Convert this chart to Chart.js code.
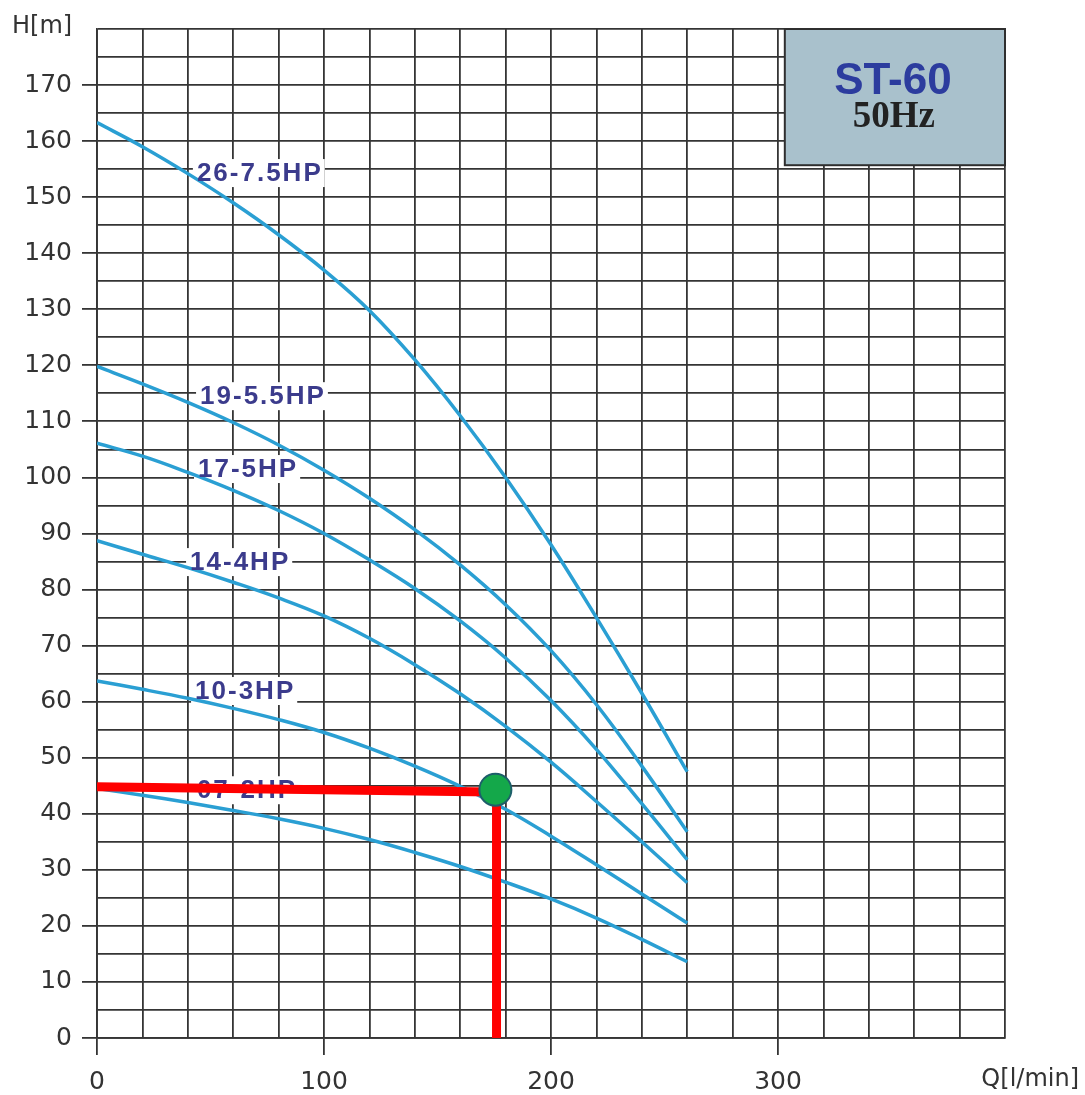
<!DOCTYPE html>
<html><head><meta charset="utf-8">
<script src="https://cdn.jsdelivr.net/npm/chart.js@4.4.0/dist/chart.umd.min.js"></script>
<style>html,body{margin:0;padding:0;background:#fff;}canvas{display:block;}</style>
</head><body>
<canvas id="c" width="1085" height="1095"></canvas>
<script>
// ---- data ----
const flowQ   = [0, 20, 40, 60, 80, 100, 120, 140, 160, 180, 200, 220, 240, 260];
const head26  = [163.3, 159.0, 154.2, 149.0, 143.3, 137.0, 129.8, 121.0, 111.0, 100.0, 88.0, 75.0, 61.5, 47.5];
const head19  = [119.8, 116.7, 113.4, 109.8, 105.8, 101.3, 96.3, 90.7, 84.4, 77.3, 69.1, 59.5, 48.5, 36.8];
const head17  = [106.1, 103.8, 100.9, 97.7, 94.1, 90.0, 85.3, 80.2, 74.4, 67.8, 60.2, 51.5, 41.8, 31.8];
const head14  = [88.7, 86.3, 83.9, 81.3, 78.5, 75.3, 71.3, 66.6, 61.4, 55.6, 49.2, 42.2, 35.0, 27.7];
const head10  = [63.7, 62.2, 60.6, 58.8, 56.8, 54.5, 51.7, 48.5, 44.9, 40.8, 36.0, 30.9, 25.7, 20.5];
const head07  = [44.5, 43.3, 42.0, 40.6, 39.1, 37.4, 35.4, 33.1, 30.6, 27.8, 24.8, 21.4, 17.6, 13.6];
const curveNames = ['26-7.5HP', '19-5.5HP', '17-5HP', '14-4HP', '10-3HP', '07-2HP'];
const curveHeads = [head26, head19, head17, head14, head10, head07];
const dutyQ = 175.5;          // operating point flow
const dutyH = 44.3;           // operating point head
const hLineQ = [0, 174];      // red horizontal guide
const hLineH = [44.8, 43.9];
const vLineQ = [176, 176];    // red vertical guide
const vLineH = [0, 44];
const xTickLabels = [0, 100, 200, 300];
const yTickLabels = [0, 10, 20, 30, 40, 50, 60, 70, 80, 90, 100, 110, 120, 130, 140, 150, 160, 170];
const titleMain = 'ST-60';
const titleSub = '50Hz';
const xTitle = 'Q[l/min]';
const yTitle = 'H[m]';

// ---- styles / positions ----
const GRID = '#353535';
const CURVE = '#2a9fd3';
const LABEL = '#3b3b8c';
const labelAnchors = [[44, 154.3], [45.4, 114.5], [44.5, 101.5], [41, 84.9], [43.2, 61.9], [44, 44.2]];

const toPts = (xs, ys) => xs.map((x, i) => ({x: x, y: ys[i]}));

const datasets = curveHeads.map((h, i) => ({
  label: curveNames[i],
  data: toPts(flowQ, h),
  borderColor: CURVE,
  borderWidth: 3.5,
  pointRadius: 0,
  tension: 0.4,
  fill: false,
  order: 3
}));
datasets.push({label: 'h-guide', data: toPts(hLineQ, hLineH), borderColor: '#ff0000', borderWidth: 9, pointRadius: 0, order: 2, borderCapStyle: 'butt'});
datasets.push({label: 'v-guide', data: toPts(vLineQ, vLineH), borderColor: '#ff0000', borderWidth: 9, pointRadius: 0, order: 2, borderCapStyle: 'butt'});
datasets.push({label: 'duty', type: 'scatter', data: [{x: dutyQ, y: dutyH}], pointRadius: 16, pointBackgroundColor: '#14a84a', pointBorderColor: '#1d5e6a', pointBorderWidth: 2, order: 1});

const LABEL_FONT = 'bold 26px "Liberation Sans", Arial, sans-serif';
let curvesDrawn = 0;
const decor = {
  id: 'decor',
  beforeDatasetsDraw(chart) {
    curvesDrawn = 0;
    const c = chart.ctx, xs = chart.scales.x, ys = chart.scales.y;
    c.save();
    c.font = LABEL_FONT;
    c.letterSpacing = '2px';
    c.fillStyle = '#ffffff';
    curveNames.forEach((t, i) => {
      const px = xs.getPixelForValue(labelAnchors[i][0]);
      const py = ys.getPixelForValue(labelAnchors[i][1]);
      const w = c.measureText(t).width;
      c.fillRect(px - 4, py - 14, w + 6, 28);
    });
    c.restore();
  },
  afterDatasetDraw(chart, args) {
    if (args.index < curveNames.length) {
      curvesDrawn++;
      if (curvesDrawn === curveNames.length) {
        const c = chart.ctx, xs = chart.scales.x, ys = chart.scales.y;
        c.save();
        c.font = LABEL_FONT;
        c.letterSpacing = '2px';
        c.fillStyle = LABEL;
        c.textBaseline = 'middle';
        c.textAlign = 'left';
        curveNames.forEach((t, i) => {
          c.fillText(t, xs.getPixelForValue(labelAnchors[i][0]), ys.getPixelForValue(labelAnchors[i][1]) + 1);
        });
        c.restore();
      }
    }
  },
  afterDraw(chart) {
    const c = chart.ctx, xs = chart.scales.x, ys = chart.scales.y;
    c.save();
    // title box
    const bx1 = xs.getPixelForValue(303), bx2 = xs.getPixelForValue(400);
    const by1 = ys.getPixelForValue(180), by2 = ys.getPixelForValue(155.7);
    c.fillStyle = '#a9c1cc';
    c.fillRect(bx1, by1, bx2 - bx1, by2 - by1);
    c.strokeStyle = '#2f2f2f';
    c.lineWidth = 2;
    c.strokeRect(bx1, by1, bx2 - bx1, by2 - by1);
    const cx = (bx1 + bx2) / 2;
    c.textAlign = 'center';
    c.textBaseline = 'alphabetic';
    c.fillStyle = '#2c3c9e';
    c.font = 'bold 44px "Liberation Sans", Arial, sans-serif';
    c.fillText(titleMain, cx - 2, 94);
    c.fillStyle = '#222222';
    c.font = 'bold 37px "Liberation Serif", "Times New Roman", serif';
    c.fillText(titleSub, cx - 1, 127);
    // axis titles
    c.fillStyle = '#333333';
    c.font = '24px "DejaVu Sans", sans-serif';
    c.textAlign = 'left';
    c.fillText(yTitle, 12, 33);
    c.textAlign = 'right';
    c.fillText(xTitle, 1079, 1086);
    c.restore();
  }
};

new Chart(document.getElementById('c'), {
  type: 'line',
  data: {datasets: datasets},
  options: {
    responsive: false,
    animation: false,
    devicePixelRatio: 1,
    layout: {padding: {top: 29, right: 80, left: 0, bottom: 0}},
    plugins: {legend: {display: false}, tooltip: {enabled: false}},
    scales: {
      x: {
        type: 'linear', min: 0, max: 400,
        ticks: {
          stepSize: 20, autoSkip: false, maxRotation: 0, padding: 12,
          font: {family: 'DejaVu Sans', size: 25}, color: '#333333',
          callback: v => xTickLabels.includes(v) ? String(v) : ''
        },
        grid: {
          color: GRID, lineWidth: 1.8, tickLength: 17,
          tickColor: ctx => (ctx.tick && xTickLabels.includes(ctx.tick.value)) ? GRID : 'rgba(0,0,0,0)'
        },
        border: {color: GRID, width: 1.8},
        afterFit: s => { s.height = 57; }
      },
      y: {
        type: 'linear', min: 0, max: 180,
        ticks: {
          stepSize: 5, autoSkip: false, padding: 10,
          font: {family: 'DejaVu Sans', size: 25}, color: '#333333',
          callback: v => yTickLabels.includes(v) ? String(v) : ''
        },
        grid: {
          color: GRID, lineWidth: 1.8, tickLength: 15,
          tickColor: ctx => (ctx.tick && yTickLabels.includes(ctx.tick.value)) ? GRID : 'rgba(0,0,0,0)'
        },
        border: {color: GRID, width: 1.8},
        afterFit: s => { s.width = 97; }
      }
    }
  },
  plugins: [decor]
});
</script>
</body></html>
